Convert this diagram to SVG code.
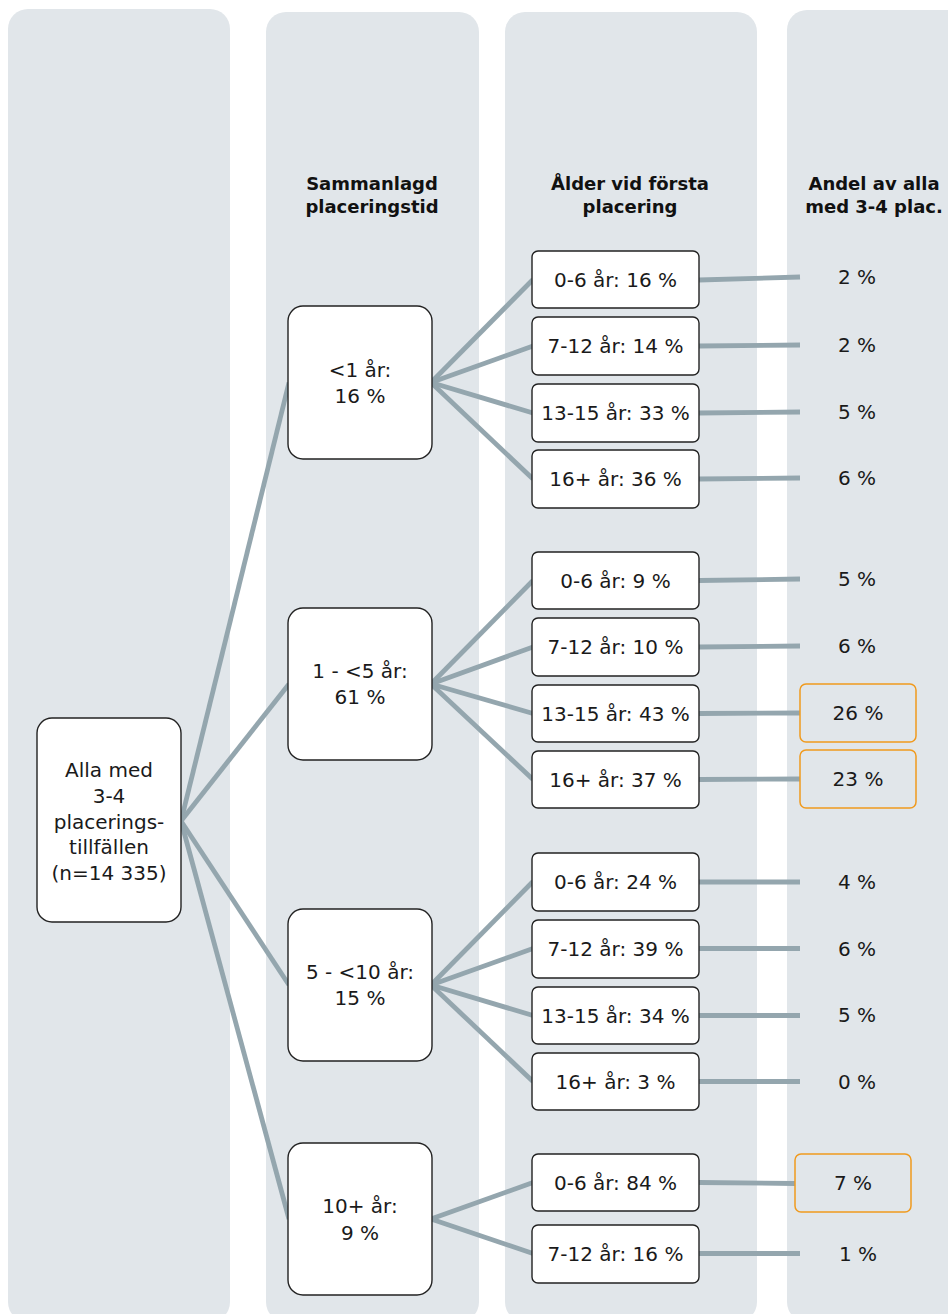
<svg xmlns="http://www.w3.org/2000/svg" width="948" height="1314" viewBox="0 0 948 1314">
<style>
.col{fill:#E1E6EA}
.box{fill:#FFFFFF;stroke:#222222;stroke-width:1.4}
.hl{fill:none;stroke:#F09A1E;stroke-width:1.5}
.ln{stroke:#94A6AE;stroke-width:4.8;fill:none;stroke-linecap:butt}
.t{font-family:"DejaVu Sans","Liberation Sans",sans-serif;font-size:20px;fill:#1A1A1A;text-anchor:middle}
.h{font-family:"DejaVu Sans","Liberation Sans",sans-serif;font-size:18px;font-weight:bold;fill:#111111;text-anchor:middle}
</style>
<g id="columns">
<rect class="col" x="8" y="9" width="222" height="1313" rx="20"/>
<rect class="col" x="266" y="12" width="213" height="1310" rx="20"/>
<rect class="col" x="505" y="12" width="252" height="1310" rx="20"/>
<rect class="col" x="787" y="10" width="190" height="1312" rx="20"/>
</g>
<g id="headers">
<text class="h" x="372" y="190">Sammanlagd</text>
<text class="h" x="372" y="213">placeringstid</text>
<text class="h" x="630" y="190">Ålder vid första</text>
<text class="h" x="630" y="213">placering</text>
<text class="h" x="874" y="190">Andel av alla</text>
<text class="h" x="874" y="213">med 3-4 plac.</text>
</g>
<g id="connectors">
<line class="ln" x1="181" y1="821" x2="289" y2="382.5"/>
<line class="ln" x1="181" y1="821" x2="289" y2="684"/>
<line class="ln" x1="181" y1="821" x2="289" y2="985"/>
<line class="ln" x1="181" y1="821" x2="289" y2="1219"/>
<line class="ln" x1="431" y1="382.5" x2="533" y2="279.5"/>
<line class="ln" x1="431" y1="382.5" x2="533" y2="346"/>
<line class="ln" x1="431" y1="382.5" x2="533" y2="413"/>
<line class="ln" x1="431" y1="382.5" x2="533" y2="479"/>
<line class="ln" x1="431" y1="684" x2="533" y2="580.5"/>
<line class="ln" x1="431" y1="684" x2="533" y2="647"/>
<line class="ln" x1="431" y1="684" x2="533" y2="713.5"/>
<line class="ln" x1="431" y1="684" x2="533" y2="779.5"/>
<line class="ln" x1="431" y1="985" x2="533" y2="881.5"/>
<line class="ln" x1="431" y1="985" x2="533" y2="948.5"/>
<line class="ln" x1="431" y1="985" x2="533" y2="1015.5"/>
<line class="ln" x1="431" y1="985" x2="533" y2="1081.5"/>
<line class="ln" x1="431" y1="1219" x2="533" y2="1182.5"/>
<line class="ln" x1="431" y1="1219" x2="533" y2="1253.5"/>
<line class="ln" x1="699" y1="280" x2="800" y2="277"/>
<line class="ln" x1="699" y1="346" x2="800" y2="345"/>
<line class="ln" x1="699" y1="413" x2="800" y2="412"/>
<line class="ln" x1="699" y1="479" x2="800" y2="478"/>
<line class="ln" x1="699" y1="580.5" x2="800" y2="579"/>
<line class="ln" x1="699" y1="647" x2="800" y2="646"/>
<line class="ln" x1="699" y1="713.5" x2="800" y2="713"/>
<line class="ln" x1="699" y1="779.5" x2="800" y2="779"/>
<line class="ln" x1="699" y1="882" x2="800" y2="882"/>
<line class="ln" x1="699" y1="948.5" x2="800" y2="948.5"/>
<line class="ln" x1="699" y1="1015.5" x2="800" y2="1015.5"/>
<line class="ln" x1="699" y1="1081.5" x2="800" y2="1081.5"/>
<line class="ln" x1="699" y1="1182.5" x2="795" y2="1183.5"/>
<line class="ln" x1="699" y1="1253.5" x2="800" y2="1253.5"/>
</g>
<g id="root">
<rect class="box" x="37" y="718" width="144" height="204" rx="15"/>
<text class="t" x="109" y="777">Alla med</text>
<text class="t" x="109" y="803">3-4</text>
<text class="t" x="109" y="829">placerings-</text>
<text class="t" x="109" y="854">tillfällen</text>
<text class="t" x="109" y="880">(n=14 335)</text>
</g>
<g id="d1">
<rect class="box" x="288" y="306" width="144" height="153" rx="15"/>
<text class="t" x="360" y="377">&lt;1 år:</text>
<text class="t" x="360" y="403">16 %</text>
</g>
<g id="d2">
<rect class="box" x="288" y="608" width="144" height="152" rx="15"/>
<text class="t" x="360" y="678">1 - &lt;5 år:</text>
<text class="t" x="360" y="704">61 %</text>
</g>
<g id="d3">
<rect class="box" x="288" y="909" width="144" height="152" rx="15"/>
<text class="t" x="360" y="979">5 - &lt;10 år:</text>
<text class="t" x="360" y="1005">15 %</text>
</g>
<g id="d4">
<rect class="box" x="288" y="1143" width="144" height="152" rx="15"/>
<text class="t" x="360" y="1213">10+ år:</text>
<text class="t" x="360" y="1240">9 %</text>
</g>
<g id="a1"><rect class="box" x="532" y="251" width="167" height="57" rx="6"/><text class="t" x="615.5" y="287">0-6 år: 16 %</text></g>
<g id="a2"><rect class="box" x="532" y="317" width="167" height="58" rx="6"/><text class="t" x="615.5" y="353">7-12 år: 14 %</text></g>
<g id="a3"><rect class="box" x="532" y="384" width="167" height="58" rx="6"/><text class="t" x="615.5" y="420">13-15 år: 33 %</text></g>
<g id="a4"><rect class="box" x="532" y="450" width="167" height="58" rx="6"/><text class="t" x="615.5" y="486">16+ år: 36 %</text></g>
<g id="b1"><rect class="box" x="532" y="552" width="167" height="57" rx="6"/><text class="t" x="615.5" y="588">0-6 år: 9 %</text></g>
<g id="b2"><rect class="box" x="532" y="618" width="167" height="58" rx="6"/><text class="t" x="615.5" y="654">7-12 år: 10 %</text></g>
<g id="b3"><rect class="box" x="532" y="685" width="167" height="57" rx="6"/><text class="t" x="615.5" y="721">13-15 år: 43 %</text></g>
<g id="b4"><rect class="box" x="532" y="751" width="167" height="57" rx="6"/><text class="t" x="615.5" y="787">16+ år: 37 %</text></g>
<g id="c1"><rect class="box" x="532" y="853" width="167" height="58" rx="6"/><text class="t" x="615.5" y="889">0-6 år: 24 %</text></g>
<g id="c2"><rect class="box" x="532" y="920" width="167" height="58" rx="6"/><text class="t" x="615.5" y="956">7-12 år: 39 %</text></g>
<g id="c3"><rect class="box" x="532" y="987" width="167" height="57" rx="6"/><text class="t" x="615.5" y="1023">13-15 år: 34 %</text></g>
<g id="c4"><rect class="box" x="532" y="1053" width="167" height="57" rx="6"/><text class="t" x="615.5" y="1089">16+ år: 3 %</text></g>
<g id="e1"><rect class="box" x="532" y="1154" width="167" height="57" rx="6"/><text class="t" x="615.5" y="1190">0-6 år: 84 %</text></g>
<g id="e2"><rect class="box" x="532" y="1225" width="167" height="58" rx="6"/><text class="t" x="615.5" y="1261">7-12 år: 16 %</text></g>
<g id="shares">
<text class="t" x="857" y="284">2 %</text>
<text class="t" x="857" y="352">2 %</text>
<text class="t" x="857" y="419">5 %</text>
<text class="t" x="857" y="485">6 %</text>
<text class="t" x="857" y="586">5 %</text>
<text class="t" x="857" y="653">6 %</text>
<g id="s26"><rect class="hl" x="800" y="684" width="116" height="58" rx="6"/><text class="t" x="858" y="720">26 %</text></g>
<g id="s23"><rect class="hl" x="800" y="750" width="116" height="58" rx="6"/><text class="t" x="858" y="786">23 %</text></g>
<text class="t" x="857" y="889">4 %</text>
<text class="t" x="857" y="956">6 %</text>
<text class="t" x="857" y="1022">5 %</text>
<text class="t" x="857" y="1089">0 %</text>
<g id="s7"><rect class="hl" x="795" y="1154" width="116" height="58" rx="6"/><text class="t" x="853" y="1190">7 %</text></g>
<text class="t" x="858" y="1261">1 %</text>
</g>
</svg>
